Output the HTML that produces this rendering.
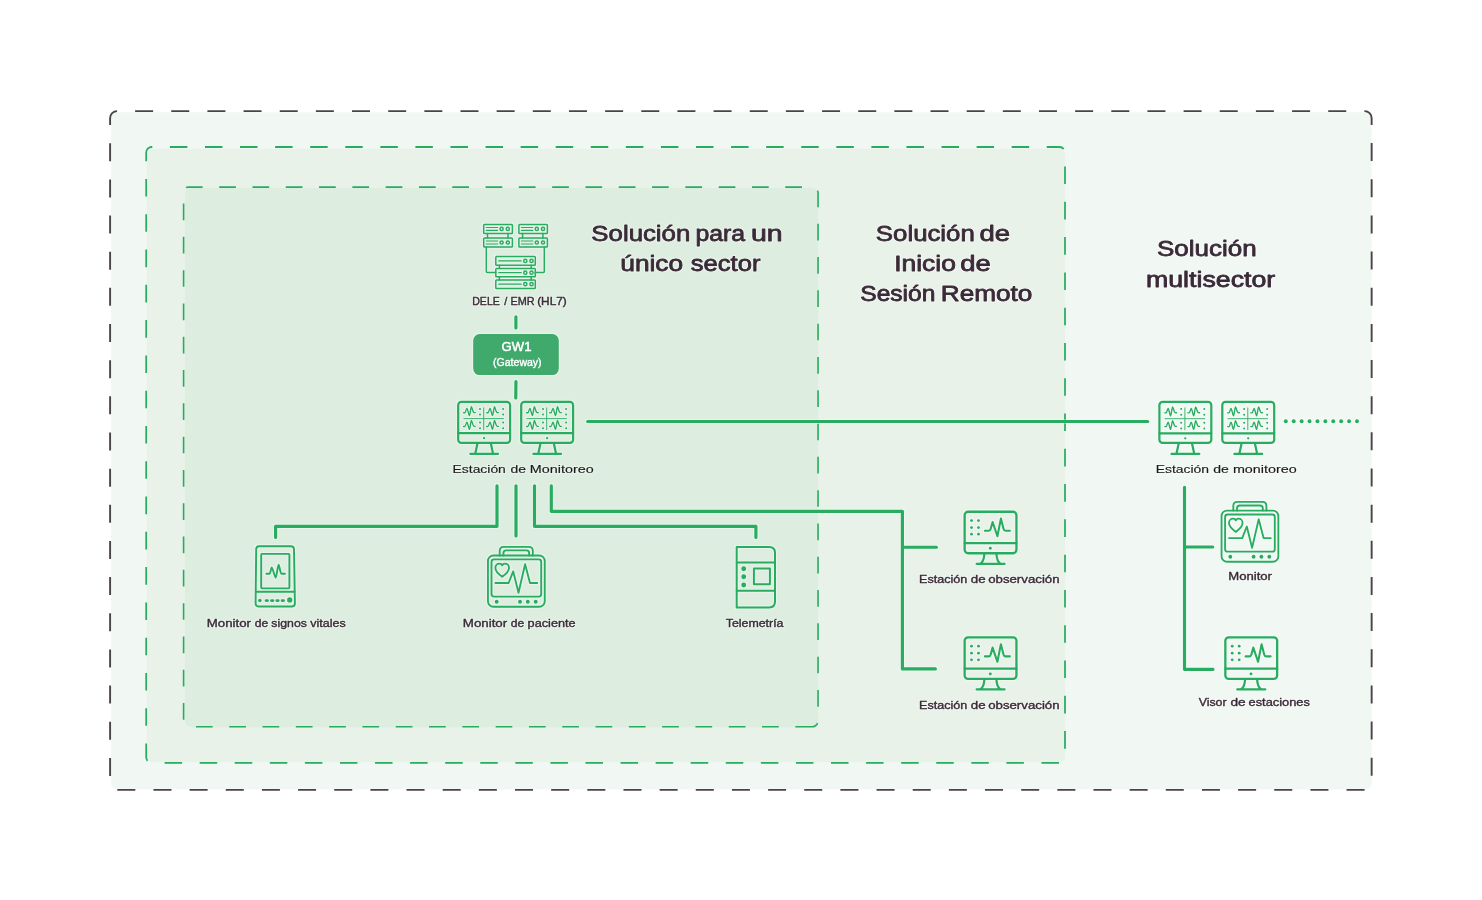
<!DOCTYPE html>
<html lang="es">
<head>
<meta charset="utf-8">
<title>Soluciones de monitoreo</title>
<style>
html,body{margin:0;padding:0;background:#fff;}
body{width:1482px;height:900px;overflow:hidden;}
svg{display:block;}
text{font-family:"Liberation Sans",sans-serif;}
.t{font-weight:normal;font-size:22.4px;fill:#3b2a38;stroke:#3b2a38;stroke-width:0.8px;stroke-linejoin:round;}
.l{font-weight:normal;font-size:10.8px;fill:#3b2a38;stroke:#3b2a38;stroke-width:0.36px;stroke-linejoin:round;}
.k{font-size:10.2px;fill:#1c1a1b;stroke:#1c1a1b;stroke-width:0.14px;}
.d{font-size:10.8px;fill:#3b2a38;stroke:#3b2a38;stroke-width:0.4px;}
.w1{font-size:12.7px;fill:#fff;stroke:#fff;stroke-width:0.5px;}
.w2{font-size:10.3px;fill:#fff;stroke:#fff;stroke-width:0.35px;}
.g{fill:none;stroke:#27ac60;stroke-linecap:round;stroke-linejoin:round;}
.ln{fill:none;stroke:#27ac60;stroke-width:3.15;stroke-linecap:round;stroke-linejoin:round;}
</style>
</head>
<body>
<svg style="will-change:transform" width="1482" height="900" viewBox="0 0 1482 900">

<defs>
<filter id="halo" x="0" y="0" width="1482" height="900" filterUnits="userSpaceOnUse" color-interpolation-filters="sRGB">
<feMorphology in="SourceAlpha" operator="dilate" radius="1" result="d"/>
<feGaussianBlur in="d" stdDeviation="0.55" result="b"/>
<feFlood flood-color="#ffffff" flood-opacity="0.34"/>
<feComposite in2="b" operator="in" result="h"/>
<feMerge><feMergeNode in="h"/><feMergeNode in="SourceGraphic"/></feMerge>
</filter>
<g id="wv"><path d="M0.5,0 H1.7 C2.7,0 3,-4.4 3.8,-4.4 C4.6,-4.4 5.6,2.8 6.3,2.8 C7,2.8 7.6,-6 8.3,-6 C9,-6 9.6,-0.3 11,-0.2 H12.2" stroke-width="1.35"/><circle cx="16.9" cy="-3.9" r="1" fill="#27ac60" stroke="none"/><circle cx="16.9" cy="1.8" r="1" fill="#27ac60" stroke="none"/></g>
<g id="mon4" class="g">
<rect x="1.1" y="1.05" width="51.9" height="41" rx="3.2" stroke-width="2.2"/>
<path d="M1.1,32.4 H53" stroke-width="2.2"/>
<circle cx="27" cy="37.4" r="1.15" fill="#27ac60" stroke="none"/>
<path d="M20.4,42.5 L18.2,52.6 M33.7,42.5 L35.9,52.6 M13.2,53 H41" stroke-width="2.2"/>
<path d="M26.6,6.6 V29.3 M6.3,17.8 H46.8" stroke-width="0.9" stroke-linecap="butt"/>
<use href="#wv" x="6" y="12"/><use href="#wv" x="29.1" y="12"/>
<use href="#wv" x="6" y="25.7"/><use href="#wv" x="29.1" y="25.7"/>
</g>
<g id="obs" class="g">
<rect x="0.95" y="0.55" width="51.8" height="41.5" rx="3.4" stroke-width="2.3"/>
<path d="M0.95,31.9 H52.75" stroke-width="2.3"/>
<circle cx="26.6" cy="37.1" r="1.45" fill="#27ac60" stroke="none"/>
<path d="M20.7,42.3 C20.5,47 19.4,50.8 16.6,52.4 M32.7,42.3 C32.9,47 34,50.8 36.8,52.4 M12.9,52.6 H40.9" stroke-width="2.2"/>
<path d="M21.2,19.6 H24.8 Q26.5,19.6 27,17.6 L28.9,10.8 L33.7,25 L37.2,7.4 L39.8,17.6 Q40.3,19.6 42,19.6 H46.2" stroke-width="2.05"/>
<g fill="#27ac60" stroke="none"><circle cx="7.8" cy="9.4" r="1.4"/><circle cx="14.8" cy="9.4" r="1.4"/>
<circle cx="7.8" cy="16.4" r="1.4"/><circle cx="14.8" cy="16.4" r="1.4"/>
<circle cx="7.8" cy="23" r="1.4"/><circle cx="14.8" cy="23" r="1.4"/></g>
</g>
<g id="pm" class="g" stroke-width="1.85">
<path d="M12.5,9.3 V4.6 Q12.5,0.6 16.5,0.6 H41.6 Q45.6,0.6 45.6,4.6 V9.3"/>
<path d="M16.2,9.3 V7 Q16.2,4.2 19,4.2 H39.2 Q42,4.2 42,7 V9.3"/>
<rect x="0.75" y="9.3" width="56.8" height="51.2" rx="5.5"/>
<rect x="4.3" y="13.2" width="49.7" height="37.2" rx="2.5"/>
<path d="M8.2,36.8 H21.4 L26,25.2 L31.3,46.6 L37.9,18 L42.8,36.8 H50"/>
<path d="M15,30.6 C12,28.4 8.2,25.6 8.2,21.8 C8.2,19 10.2,17.4 12.2,17.4 C13.6,17.4 14.6,18.2 15,19.2 C15.4,18.2 16.4,17.4 17.8,17.4 C19.8,17.4 21.8,19 21.8,21.8 C21.8,25.6 18,28.4 15,30.6 Z"/>
<g fill="#27ac60" stroke="none"><circle cx="9.5" cy="55.5" r="1.95"/><circle cx="32.8" cy="55.5" r="1.95"/><circle cx="40.6" cy="55.5" r="1.95"/><circle cx="48.5" cy="55.5" r="1.95"/></g>
</g>
</defs>
<rect x="111" y="112.3" width="1260.6" height="677.2" rx="6" fill="#f1f8f3"/>
<path d="M117.10,111.15 H1364.65 A7,7 0 0 1 1371.65,118.15 V782.90 A7,7 0 0 1 1364.65,789.90 H117.10 A7,7 0 0 1 110.10,782.90 V118.15 A7,7 0 0 1 117.10,111.15 Z" fill="none" stroke="#4a4448" stroke-width="1.9" stroke-dasharray="18 18.155" stroke-dashoffset="18.15"/>
<rect x="146.7" y="148.8" width="918.5" height="613.4" rx="6" fill="#e8f2e9"/>
<path transform="scale(1,1.006)" d="M151.70,146.12 H1059.50 A5.5,5.5 0 0 1 1065.00,151.62 V752.85 A5.5,5.5 0 0 1 1059.50,758.35 H151.70 A5.5,5.5 0 0 1 146.20,752.85 V151.62 A5.5,5.5 0 0 1 151.70,146.12 Z" fill="none" stroke="#27ac60" stroke-width="1.75" stroke-dasharray="17.5 17.575" stroke-dashoffset="16.9"/>
<rect x="185" y="188.1" width="633.1" height="539.2" rx="6" fill="#ddeee0"/>
<path d="M812.05,726.8 H189.6 A6,6 0 0 1 183.6,720.8 V191.6 A4.5,4.5 0 0 1 188.1,187.1 H812.05 A6,6 0 0 1 818.05,193.1 V720.8 A6,6 0 0 1 812.05,726.8 Z" fill="none" stroke="#27ac60" stroke-width="1.6" stroke-dasharray="16.7 16.6"/>
<g filter="url(#halo)">
<g class="ln">
<path d="M515.9,316.9 V328"/>
<path d="M515.95,381.6 L515.75,397.9"/>
<path d="M587.7,421.5 H1147.7"/>
<path d="M497,485.7 V526.3 H275.6 V537.5"/>
<path d="M516,485.7 V536"/>
<path d="M534.5,485.7 V526.3 H755.9 V537.5"/>
<path d="M551.3,485.7 V511.3 H902.4 V668.9 H935.4"/>
<path d="M903.3,547.2 H936.4"/>
<path d="M1184.5,487.3 V669.3 H1213"/>
<path d="M1185.4,547 H1212.7"/>
</g>
<g fill="#27ac60"><circle cx="1285.80" cy="421.3" r="1.95"/><circle cx="1293.71" cy="421.3" r="1.95"/><circle cx="1301.62" cy="421.3" r="1.95"/><circle cx="1309.53" cy="421.3" r="1.95"/><circle cx="1317.44" cy="421.3" r="1.95"/><circle cx="1325.35" cy="421.3" r="1.95"/><circle cx="1333.26" cy="421.3" r="1.95"/><circle cx="1341.17" cy="421.3" r="1.95"/><circle cx="1349.08" cy="421.3" r="1.95"/><circle cx="1356.99" cy="421.3" r="1.95"/></g>
<g class="g" stroke-width="1.5">
<rect x="483.7" y="224.4" width="28.70" height="9.10" rx="0.8"/><path d="M486.20,227.50 H497.70 M486.20,230.40 H497.70" stroke-width="1.1"/><circle cx="501.60" cy="228.95" r="1.6"/><circle cx="507.80" cy="228.95" r="1.6"/>
<rect x="483.7" y="238" width="28.70" height="9.00" rx="0.8"/><path d="M486.20,241.05 H497.70 M486.20,243.95 H497.70" stroke-width="1.1"/><circle cx="501.60" cy="242.50" r="1.6"/><circle cx="507.80" cy="242.50" r="1.6"/>
<rect x="518.9" y="224.4" width="28.50" height="9.10" rx="0.8"/><path d="M521.40,227.50 H532.90 M521.40,230.40 H532.90" stroke-width="1.1"/><circle cx="536.80" cy="228.95" r="1.6"/><circle cx="543.00" cy="228.95" r="1.6"/>
<rect x="518.9" y="238" width="28.50" height="9.00" rx="0.8"/><path d="M521.40,241.05 H532.90 M521.40,243.95 H532.90" stroke-width="1.1"/><circle cx="536.80" cy="242.50" r="1.6"/><circle cx="543.00" cy="242.50" r="1.6"/>
<path d="M487.5,233.5 V238 M508,233.5 V238 M522.6,233.5 V238 M542.9,233.5 V238"/>
<rect x="495.8" y="256.6" width="39.50" height="8.70" rx="0.8"/><path d="M498.80,260.95 H521.20" stroke-width="1.25"/><circle cx="525.30" cy="260.95" r="1.6"/><circle cx="531.50" cy="260.95" r="1.6"/>
<rect x="495.8" y="268.6" width="39.50" height="8.20" rx="0.8"/><path d="M498.80,272.70 H521.20" stroke-width="1.25"/><circle cx="525.30" cy="272.70" r="1.6"/><circle cx="531.50" cy="272.70" r="1.6"/>
<rect x="495.8" y="279.9" width="39.50" height="8.60" rx="0.8"/><path d="M498.80,284.20 H521.20" stroke-width="1.25"/><circle cx="525.30" cy="284.20" r="1.6"/><circle cx="531.50" cy="284.20" r="1.6"/>
<path d="M499.4,265.3 V268.6 M531.2,265.3 V268.6 M499.4,276.8 V279.9 M531.2,276.8 V279.9"/>
<path d="M486.3,247 V271.4 Q486.3,272.6 487.5,272.6 H495.8 M544.3,247 V271.4 Q544.3,272.6 543.1,272.6 H535.3"/>
</g>
<rect x="473.2" y="334" width="85.6" height="41.1" rx="6.5" fill="#40a96c"/>
<use href="#mon4" x="457.1" y="400.8"/>
<use href="#mon4" x="520.1" y="400.8"/>
<use href="#mon4" x="1158.3" y="400.9"/>
<use href="#mon4" x="1221.2" y="400.9"/>
<use href="#obs" x="963.7" y="511.2"/>
<use href="#obs" x="963.7" y="636.8"/>
<use href="#obs" x="1224.4" y="636.8"/>
<use href="#pm" x="487.2" y="546.2"/>
<use href="#pm" x="1220.8" y="501.3"/>
<g class="g" stroke-width="1.9" transform="translate(255,545.8)">
<path d="M4,0.4 H36 Q38.9,0.4 39,3.3 L39.9,57.6 Q39.9,60.7 36.8,60.7 H3.5 Q0.6,60.7 0.6,57.6 L1.2,3.3 Q1.3,0.4 4,0.4 Z"/>
<rect x="6.2" y="8.1" width="28.2" height="34.5" rx="0.8"/>
<path d="M1,45.9 H39.6"/>
<path d="M11.4,27.9 H14.6 C15.6,27.9 16,21.6 16.7,21.6 C17.6,21.6 19.8,31.9 20.7,31.9 C21.6,31.9 22.8,19 23.6,19 C24.5,19 25.2,27.9 26.4,27.9 H29.9"/>
<circle cx="4.9" cy="54.7" r="1.75" fill="#27ac60" stroke="none"/>
<path d="M11,54.75 H12.6 M16.4,54.75 H18 M21.7,54.75 H23.3 M27,54.75 H28.6" stroke-width="2.7"/>
<circle cx="34.7" cy="54.1" r="2.6" fill="#27ac60" stroke="none"/>
</g>
<g class="g" stroke-width="2" stroke-linejoin="miter" transform="translate(736.2,546.7)">
<path d="M0.5,0.4 H33 Q38.8,0.4 38.8,6.2 V54.9 Q38.8,60.7 33,60.7 H0.5 Z"/>
<path d="M0.5,15.7 H38.8 M0.5,44.1 H38.8"/>
<rect x="17.7" y="21.7" width="16" height="15.8"/>
<g fill="#27ac60" stroke="none"><circle cx="7.5" cy="22.1" r="2.45"/><circle cx="7.5" cy="30.1" r="2.45"/><circle cx="7.5" cy="38.3" r="2.45"/></g>
</g>
<text><tspan id="t1a" class="t" x="591.39" y="240.7" textLength="98.88" lengthAdjust="spacingAndGlyphs">Solución</tspan> <tspan id="t1b" class="t" x="695.40" y="240.7" textLength="49.67" lengthAdjust="spacingAndGlyphs">para</tspan> <tspan id="t1c" class="t" x="750.94" y="240.7" textLength="31.61" lengthAdjust="spacingAndGlyphs">un</tspan> <tspan id="t1d" class="t" x="620.30" y="270.6" textLength="62.83" lengthAdjust="spacingAndGlyphs">único</tspan> <tspan id="t1e" class="t" x="690.82" y="270.6" textLength="69.59" lengthAdjust="spacingAndGlyphs">sector</tspan></text>
<text><tspan id="t2a" class="t" x="875.89" y="240.8" textLength="98.88" lengthAdjust="spacingAndGlyphs">Solución</tspan> <tspan id="t2b" class="t" x="979.55" y="240.8" textLength="30.57" lengthAdjust="spacingAndGlyphs">de</tspan> <tspan id="t2c" class="t" x="894.20" y="270.6" textLength="61.68" lengthAdjust="spacingAndGlyphs">Inicio</tspan> <tspan id="t2d" class="t" x="960.18" y="270.6" textLength="30.51" lengthAdjust="spacingAndGlyphs">de</tspan> <tspan id="t2e" class="t" x="860.24" y="300.6" textLength="75.21" lengthAdjust="spacingAndGlyphs">Sesión</tspan> <tspan id="t2f" class="t" x="940.74" y="300.6" textLength="91.64" lengthAdjust="spacingAndGlyphs">Remoto</tspan></text>
<text><tspan id="t3a" class="t" x="1156.97" y="256.4" textLength="99.66" lengthAdjust="spacingAndGlyphs">Solución</tspan> <tspan id="t3b" class="t" x="1146.00" y="286.5" textLength="129.17" lengthAdjust="spacingAndGlyphs">multisector</tspan></text>
<text><tspan id="d1" class="d" x="472.25" y="304.8" textLength="27.59" lengthAdjust="spacingAndGlyphs">DELE</tspan> <tspan id="d2" class="d" x="504.20" y="304.8">/</tspan> <tspan id="d3" class="d" x="510.58" y="304.8" textLength="24.10" lengthAdjust="spacingAndGlyphs">EMR</tspan> <tspan id="d4" class="d" x="537.17" y="304.8" textLength="29.57" lengthAdjust="spacingAndGlyphs">(HL7)</tspan></text>
<text><tspan id="g1" class="w1" x="501.62" y="350.8" textLength="29.84" lengthAdjust="spacingAndGlyphs">GW1</tspan> <tspan id="g2" class="w2" x="493.08" y="366.0" textLength="48.52" lengthAdjust="spacingAndGlyphs">(Gateway)</tspan></text>
<text><tspan id="k1" class="k" x="452.60" y="473.0" textLength="53.23" lengthAdjust="spacingAndGlyphs">Estación</tspan> <tspan id="k2" class="k" x="510.49" y="473.0" textLength="15.53" lengthAdjust="spacingAndGlyphs">de</tspan> <tspan id="k3" class="k" x="529.87" y="473.0" textLength="63.83" lengthAdjust="spacingAndGlyphs">Monitoreo</tspan></text>
<text><tspan id="k4" class="k" x="1155.65" y="473.0" textLength="53.46" lengthAdjust="spacingAndGlyphs">Estación</tspan> <tspan id="k5" class="k" x="1213.28" y="473.0" textLength="15.62" lengthAdjust="spacingAndGlyphs">de</tspan> <tspan id="k6" class="k" x="1232.90" y="473.0" textLength="63.79" lengthAdjust="spacingAndGlyphs">monitoreo</tspan></text>
<text><tspan id="l1" class="l" x="206.87" y="627.2" textLength="44.11" lengthAdjust="spacingAndGlyphs">Monitor</tspan> <tspan id="l2" class="l" x="254.87" y="627.2" textLength="13.50" lengthAdjust="spacingAndGlyphs">de</tspan> <tspan id="l3" class="l" x="271.38" y="627.2" textLength="35.50" lengthAdjust="spacingAndGlyphs">signos</tspan> <tspan id="l4" class="l" x="310.31" y="627.2" textLength="35.42" lengthAdjust="spacingAndGlyphs">vitales</tspan></text>
<text><tspan id="l5" class="l" x="462.80" y="627.2" textLength="44.41" lengthAdjust="spacingAndGlyphs">Monitor</tspan> <tspan id="l6" class="l" x="510.87" y="627.2" textLength="13.50" lengthAdjust="spacingAndGlyphs">de</tspan> <tspan id="l7" class="l" x="527.64" y="627.2" textLength="47.98" lengthAdjust="spacingAndGlyphs">paciente</tspan></text>
<text><tspan id="l8" class="l" x="725.72" y="627.2" textLength="57.77" lengthAdjust="spacingAndGlyphs">Telemetría</tspan></text>
<text><tspan id="l9" class="l" x="919.05" y="583.0" textLength="48.21" lengthAdjust="spacingAndGlyphs">Estación</tspan> <tspan id="l10" class="l" x="970.76" y="583.0" textLength="14.83" lengthAdjust="spacingAndGlyphs">de</tspan> <tspan id="l11" class="l" x="988.18" y="583.0" textLength="71.37" lengthAdjust="spacingAndGlyphs">observación</tspan></text>
<text><tspan id="l12" class="l" x="919.05" y="709.0" textLength="48.21" lengthAdjust="spacingAndGlyphs">Estación</tspan> <tspan id="l13" class="l" x="970.76" y="709.0" textLength="14.83" lengthAdjust="spacingAndGlyphs">de</tspan> <tspan id="l14" class="l" x="988.18" y="709.0" textLength="71.37" lengthAdjust="spacingAndGlyphs">observación</tspan></text>
<text><tspan id="l15" class="l" x="1228.29" y="580.0" textLength="43.71" lengthAdjust="spacingAndGlyphs">Monitor</tspan></text>
<text><tspan id="l16" class="l" x="1198.73" y="706.0" textLength="27.86" lengthAdjust="spacingAndGlyphs">Visor</tspan> <tspan id="l17" class="l" x="1230.50" y="706.0" textLength="15.21" lengthAdjust="spacingAndGlyphs">de</tspan> <tspan id="l18" class="l" x="1248.56" y="706.0" textLength="61.36" lengthAdjust="spacingAndGlyphs">estaciones</tspan></text>
</g>
</svg>
</body>
</html>
